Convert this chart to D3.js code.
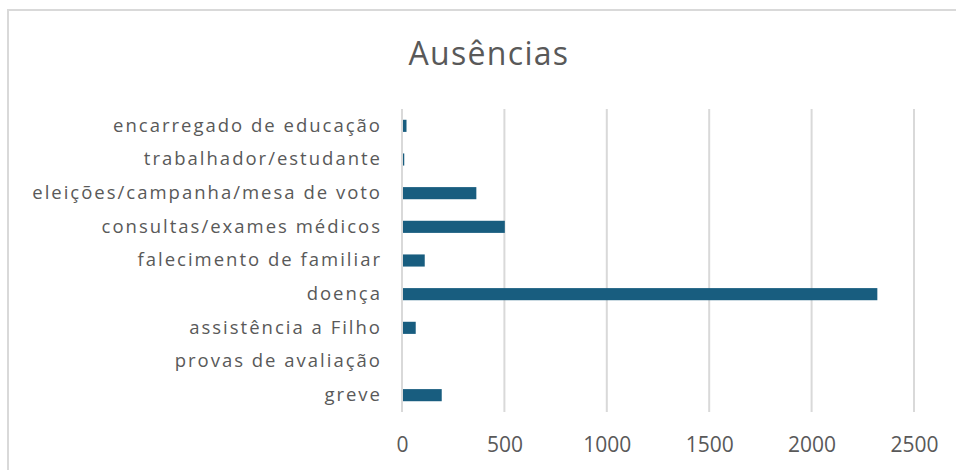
<!DOCTYPE html>
<html>
<head>
<meta charset="utf-8">
<script src="https://cdn.jsdelivr.net/npm/d3@7"></script>
<style>
  body { margin: 0; background: #fff; }
  svg text { font-family: "Open Sans", "Liberation Sans", sans-serif; fill: #595959; }
</style>
</head>
<body>
<div id="canvas"></div>
<script>
"use strict"

// Chart data (top row first)
let categories = [
    "encarregado de educação",
    "trabalhador/estudante",
    "eleições/campanha/mesa de voto",
    "consultas/exames médicos",
    "falecimento de familiar",
    "doença",
    "assistência a Filho",
    "provas de avaliação",
    "greve"
];
let values = [22, 11, 363, 502, 111, 2321, 67, 0, 194];
let tickValues = [0, 500, 1000, 1500, 2000, 2500];
let chartTitle = "Ausências";

let svgWidth = 956;
let svgHeight = 470;

let margin = { top: 109, right: 42, bottom: 58, left: 402 };

let svg = d3.select("#canvas")
    .append("svg")
    .attr("width", svgWidth)
    .attr("height", svgHeight);

// chart area border (continues past the right and bottom edges)
svg.append("rect")
    .attr("x", 8)
    .attr("y", 10)
    .attr("width", svgWidth + 20)
    .attr("height", svgHeight + 20)
    .attr("fill", "white")
    .attr("stroke", "#d9d9d9")
    .attr("stroke-width", 2);

let xScale = d3.scaleLinear()
    .domain([0, 2500])
    .range([margin.left, 914]);

let yScale = d3.scaleBand()
    .domain(categories)
    .range([margin.top, svgHeight - margin.bottom])
    .paddingInner(0.64)
    .paddingOuter(0.32);

// gridlines
svg.append("g")
    .selectAll("line")
    .data(tickValues)
    .join("line")
    .attr("x1", function(d) { return xScale(d); })
    .attr("x2", function(d) { return xScale(d); })
    .attr("y1", margin.top)
    .attr("y2", svgHeight - margin.bottom)
    .attr("stroke", "#d9d9d9")
    .attr("stroke-width", 2);

// bars
svg.selectAll("rect.bar")
    .data(values)
    .join("rect")
    .classed("bar", true)
    .attr("x", xScale(0) + 1)
    .attr("y", function(d, i) { return yScale(categories[i]); })
    .attr("width", function(d) { return Math.max(0, xScale(d) - xScale(0) - 1); })
    .attr("height", yScale.bandwidth())
    .attr("fill", "#185d7f");

// category axis (labels only)
let yAxis = d3.axisLeft(yScale).tickSize(0).tickPadding(20);
let yG = svg.append("g")
    .attr("transform", "translate(" + margin.left + ",0)")
    .call(yAxis);
yG.select(".domain").remove();
yG.selectAll("text")
    .style("font-size", "18.5px")
    .style("letter-spacing", "2px")
    .attr("fill", "#595959");

// value axis (labels only)
let xAxis = d3.axisBottom(xScale)
    .tickValues(tickValues)
    .tickFormat(d3.format("d"))
    .tickSize(0)
    .tickPadding(25);
let xG = svg.append("g")
    .attr("transform", "translate(0," + (svgHeight - margin.bottom) + ")")
    .call(xAxis);
xG.select(".domain").remove();
xG.selectAll("text")
    .style("font-size", "21px")
    .attr("fill", "#595959");

// title
svg.append("text")
    .attr("x", 489)
    .attr("y", 65)
    .attr("text-anchor", "middle")
    .style("font-size", "32px")
    .style("letter-spacing", "1.3px")
    .text(chartTitle);
</script>
</body>
</html>
